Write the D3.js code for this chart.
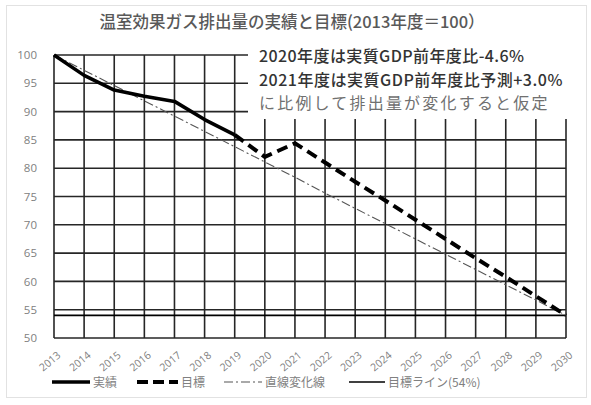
<!DOCTYPE html>
<html>
<head>
<meta charset="utf-8">
<script src="https://cdn.jsdelivr.net/npm/d3@7"></script>
<style>
  html, body { margin: 0; padding: 0; background: #fff; }
  svg { display: block; font-family: "Noto Sans CJK JP", "Noto Sans", sans-serif; }
</style>
</head>
<body>
<svg id="chart" width="591" height="405"></svg>
<script>
// Fiscal years on the x axis
const years = [2013, 2014, 2015, 2016, 2017, 2018, 2019, 2020, 2021,
               2022, 2023, 2024, 2025, 2026, 2027, 2028, 2029, 2030];
// Actual emissions index (FY2013 = 100)
const actual = [100, 96.4, 93.8, 92.7, 91.8, 88.6, 85.9];
const actualYears = [2013, 2014, 2015, 2016, 2017, 2018, 2019];
// Target path: 2020/2021 from GDP assumption, then down to 54 in 2030
const targetYears = [2019, 2020, 2021, 2022, 2023, 2024, 2025, 2026, 2027, 2028, 2029, 2030];
const target = [85.9, 82.0, 84.4, 81.0, 77.6, 74.3, 70.9, 67.5, 64.1, 60.8, 57.4, 54.0];
// Straight-line reduction from 100 to 54
const linear = [100, 97.3, 94.6, 91.9, 89.2, 86.5, 83.8, 81.1, 78.4,
                75.6, 72.9, 70.2, 67.5, 64.8, 62.1, 59.4, 56.7, 54.0];
// Target level line
const goalLevel = 54;
const yTicks = [50, 55, 60, 65, 70, 75, 80, 85, 90, 95, 100];

const titleText = "温室効果ガス排出量の実績と目標(2013年度＝100）";
const noteLines = ["2020年度は実質GDP前年度比-4.6%",
                   "2021年度は実質GDP前年度比予測+3.0%",
                   "に比例して排出量が変化すると仮定"];
const legendLabels = ["実績", "目標", "直線変化線", "目標ライン(54%)"];

const svg = d3.select("#chart");

// outer frame
svg.append("rect").attr("x", 6.5).attr("y", 5.5).attr("width", 580).attr("height", 392)
  .attr("fill", "#fff").attr("stroke", "#e2e2e2").attr("stroke-width", 1);

const x = d3.scaleLinear().domain([2013, 2030]).range([54, 566]);
const y = d3.scaleLinear().domain([50, 100]).range([338, 55]);

// title
svg.append("text").attr("x", 292).attr("y", 28).attr("text-anchor", "middle")
  .attr("font-size", 16.5).attr("font-weight", 500).attr("fill", "#595959")
  .text(titleText);

const grid = svg.append("g").attr("stroke", "#262626").attr("stroke-width", 1.6);
grid.selectAll("line.v").data(years).join("line").attr("class", "v")
  .attr("x1", d => x(d)).attr("x2", d => x(d))
  .attr("y1", y(50)).attr("y2", y(100));
grid.selectAll("line.h").data(yTicks).join("line").attr("class", "h")
  .attr("x1", x(2013)).attr("x2", x(2030))
  .attr("y1", d => y(d)).attr("y2", d => y(d));

// note box covering the upper right of the grid
svg.append("rect").attr("x", 248).attr("y", 40).attr("width", 330).attr("height", 79).attr("fill", "#fff");
const noteColors = ["#333", "#333", "#707070"];
const noteY = [62, 86, 109];
const noteSpacing = [0.4, 0.5, 2.2];
const noteWeight = [500, 500, 400];
svg.selectAll("text.note").data(noteLines).join("text").attr("class", "note")
  .attr("x", 259).attr("y", (d, i) => noteY[i])
  .attr("font-size", 16).attr("letter-spacing", (d, i) => noteSpacing[i])
  .attr("font-weight", (d, i) => noteWeight[i])
  .attr("fill", (d, i) => noteColors[i]).text(d => d);

// y axis labels
const yAxis = svg.append("g").attr("transform", `translate(${x(2013)},0)`)
  .call(d3.axisLeft(y).tickValues(yTicks).tickSize(0).tickPadding(17));
yAxis.select(".domain").remove();
yAxis.selectAll("text").attr("font-size", 11.5).attr("fill", "#808080")
  .attr("font-family", "'Open Sans', sans-serif");

// x axis labels (rotated)
const xAxis = svg.append("g").attr("transform", `translate(0,${y(50)})`)
  .call(d3.axisBottom(x).tickValues(years).tickFormat(d3.format("d")).tickSize(0));
xAxis.select(".domain").remove();
xAxis.selectAll("text")
  .attr("font-size", 10.5).attr("fill", "#808080").attr("font-family", "'Open Sans', sans-serif")
  .attr("text-anchor", "end").attr("dy", null).attr("dx", null)
  .attr("transform", "translate(5,16) rotate(-40)");

// target level line
svg.append("line").attr("x1", x(2013)).attr("x2", x(2030))
  .attr("y1", y(goalLevel)).attr("y2", y(goalLevel))
  .attr("stroke", "#000").attr("stroke-width", 1.6);

const lineGen = d3.line().x(d => x(d[0])).y(d => y(d[1]));

// straight-line reduction
svg.append("path").datum(years.map((yr, i) => [yr, linear[i]]))
  .attr("d", lineGen).attr("fill", "none").attr("stroke", "#555")
  .attr("stroke-width", 1.1).attr("stroke-dasharray", "9,3,2,3");

// target (dashed)
svg.append("path").datum(targetYears.map((yr, i) => [yr, target[i]]))
  .attr("d", lineGen).attr("fill", "none").attr("stroke", "#000")
  .attr("stroke-width", 4).attr("stroke-dasharray", "11,6");

// actual
svg.append("path").datum(actualYears.map((yr, i) => [yr, actual[i]]))
  .attr("d", lineGen).attr("fill", "none").attr("stroke", "#000")
  .attr("stroke-width", 3.6).attr("stroke-linejoin", "round");

// legend
const legendY = 382;
const legendItems = [
  { x0: 52, x1: 90, width: 3.6, dash: null, color: "#000" },
  { x0: 137, x1: 178, width: 4, dash: "11,5", color: "#000" },
  { x0: 224, x1: 262, width: 1.1, dash: "9,3,2,3", color: "#555" },
  { x0: 349, x1: 385, width: 1.6, dash: null, color: "#000" }
];
const lg = svg.append("g");
legendItems.forEach((it, i) => {
  lg.append("line").attr("x1", it.x0).attr("x2", it.x1).attr("y1", legendY).attr("y2", legendY)
    .attr("stroke", it.color).attr("stroke-width", it.width)
    .attr("stroke-dasharray", it.dash);
  lg.append("text").attr("x", it.x1 + 3).attr("y", legendY + 4.5)
    .attr("font-size", 12).attr("fill", "#808080").text(legendLabels[i]);
});
</script>
</body>
</html>
